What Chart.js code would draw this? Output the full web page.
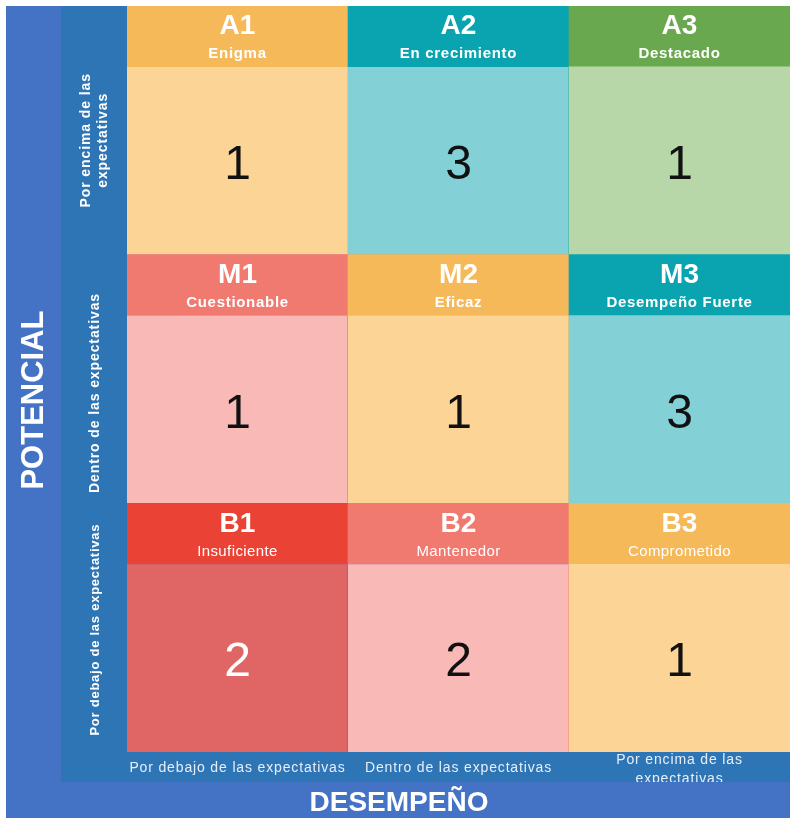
<!DOCTYPE html>
<html>
<head>
<meta charset="utf-8">
<script src="https://cdn.jsdelivr.net/npm/chart.js@4"></script>
<style>
  html, body { margin: 0; padding: 0; background: #fff; }
  canvas { display: block; }
</style>
</head>
<body>
<canvas id="grid" width="790" height="818"></canvas>
<script>
// Axis categories (x: desempeño, y: potencial, bottom row first)
const colLabels = ['Por debajo de las expectativas', 'Dentro de las expectativas', ['Por encima de las', 'expectativas']];
const rowLabels = ['Por debajo de las expectativas', 'Dentro de las expectativas', ['Por encima de las', 'expectativas']];

// Cell codes / names, rows bottom (B) to top (A)
const cellCodes = [['B1', 'B2', 'B3'], ['M1', 'M2', 'M3'], ['A1', 'A2', 'A3']];
const cellNames = [
  ['Insuficiente', 'Mantenedor', 'Comprometido'],
  ['Cuestionable', 'Eficaz', 'Desempeño Fuerte'],
  ['Enigma', 'En crecimiento', 'Destacado']
];
// Number of people in each box
const cellCounts = [[2, 2, 1], [1, 1, 3], [1, 3, 1]];

// Colors per cell (header / body)
const headerColors = [
  ['#EA4335', '#F07970', '#F5B95A'],
  ['#F07970', '#F5B95A', '#0AA4B0'],
  ['#F5B95A', '#0AA4B0', '#6AA84F']
];
const bodyColors = [
  ['#E06666', '#F9B9B6', '#FBD496'],
  ['#F9B9B6', '#FBD496', '#83D0D6'],
  ['#FBD496', '#83D0D6', '#B7D7A8']
];

const HEADER_SHARE = 0.245; // part of each row used by the title strip
const OUTER_BLUE = '#4472C4';
const INNER_BLUE = '#2E75B6';
const FONT = '"Liberation Sans", Arial, sans-serif';

// one stacked dataset for each body and each header strip
const datasets = [];
for (let r = 0; r < 3; r++) {
  datasets.push({
    label: 'body' + r,
    data: [0, 1, 2].map(() => 1 - HEADER_SHARE),
    backgroundColor: bodyColors[r],
    borderColor: headerColors[r],
    // thin divider on the right of the first two columns
    borderWidth: ctx => ctx.dataIndex < 2 ? { left: 0, right: 1, top: 0, bottom: 0 } : 0,
    borderSkipped: false
  });
  datasets.push({
    label: 'head' + r,
    data: [0, 1, 2].map(() => HEADER_SHARE),
    backgroundColor: headerColors[r],
    borderWidth: 0
  });
}

const frame = {
  id: 'frame',
  beforeDraw(chart) {
    const { ctx, chartArea: a } = chart;
    ctx.save();
    ctx.fillStyle = '#fff';
    ctx.fillRect(0, 0, chart.width, chart.height);
    ctx.fillStyle = OUTER_BLUE;
    ctx.fillRect(6, a.top, chart.width - 6, chart.height - a.top);
    ctx.fillStyle = INNER_BLUE;
    ctx.fillRect(61, a.top, a.left - 61, a.bottom - a.top + 30);
    ctx.fillRect(61, a.bottom, chart.width - 61, 30);
    ctx.restore();
  }
};

function txt(ctx, s, x, y, font, color, spacing) {
  ctx.font = font;
  ctx.fillStyle = color;
  ctx.letterSpacing = (spacing || 0) + 'px';
  ctx.fillText(s, x, y);
}

const labels = {
  id: 'labels',
  afterDatasetsDraw(chart) {
    const { ctx, chartArea: a } = chart;
    const xs = chart.scales.x, ys = chart.scales.y;
    ctx.save();
    ctx.textAlign = 'center';
    ctx.textBaseline = 'middle';

    for (let r = 0; r < 3; r++) {
      const top = ys.getPixelForValue(r + 1);
      const headBottom = ys.getPixelForValue(r + 1 - HEADER_SHARE);
      const bottom = ys.getPixelForValue(r);
      const hh = headBottom - top;
      for (let c = 0; c < 3; c++) {
        const x = xs.getPixelForValue(c);
        txt(ctx, cellCodes[r][c], x, top + hh * 0.27 + 4, 'bold 28px ' + FONT, '#fff');
        const nameFont = (r === 0 ? '' : 'bold ') + '15px ' + FONT;
        txt(ctx, cellNames[r][c], x, top + hh * 0.74 + 3, nameFont, '#fff', r === 0 ? 0.4 : 0.7);
        const numColor = (r === 0 && c === 0) ? '#fff' : '#111';
        txt(ctx, String(cellCounts[r][c]), x, (headBottom + bottom) / 2 + 5, '48px ' + FONT, numColor);
      }
    }

    // row labels, rotated inside the inner band
    const bandX = (61 + a.left) / 2 + 1;
    for (let r = 0; r < 3; r++) {
      const lines = [].concat(rowLabels[r]);
      const y = ys.getPixelForValue(r + 0.5) + (r === 2 ? 10 : r === 1 ? 14 : 2);
      const font = r === 0 ? 'bold 13px ' + FONT : 'bold 14px ' + FONT;
      ctx.save();
      ctx.translate(bandX, y);
      ctx.rotate(-Math.PI / 2);
      lines.forEach((s, i) => {
        const off = (i - (lines.length - 1) / 2) * 17;
        txt(ctx, s, 0, off, font, '#fff', r === 0 ? 0.75 : 0.9);
      });
      ctx.restore();
    }

    // column labels, clipped by the bottom band
    ctx.save();
    ctx.beginPath();
    ctx.rect(61, a.bottom, chart.width - 61, 30);
    ctx.clip();
    for (let c = 0; c < 3; c++) {
      const lines = [].concat(colLabels[c]);
      const x = xs.getPixelForValue(c);
      lines.forEach((s, i) => {
        const y = lines.length > 1 ? a.bottom + 8 + i * 19 : a.bottom + 16;
        txt(ctx, s, x, y, '14px ' + FONT, '#E8EEF8', 0.85);
      });
    }
    ctx.restore();

    // axis titles
    ctx.save();
    ctx.translate(34, ys.getPixelForValue(1.5) + 21);
    ctx.rotate(-Math.PI / 2);
    txt(ctx, 'POTENCIAL', 0, 0, 'bold 31px ' + FONT, '#fff');
    ctx.restore();
    txt(ctx, 'DESEMPEÑO', 399, chart.height - 15, 'bold 28px ' + FONT, '#fff');

    ctx.restore();
  }
};

new Chart(document.getElementById('grid'), {
  type: 'bar',
  data: { labels: colLabels, datasets: datasets },
  options: {
    responsive: false,
    animation: false,
    layout: { padding: { left: 127, top: 6, right: 0, bottom: 66 } },
    datasets: { bar: { barPercentage: 1, categoryPercentage: 1 } },
    plugins: { legend: { display: false }, tooltip: { enabled: false } },
    scales: {
      x: { display: false, stacked: true },
      y: { display: false, stacked: true, min: 0, max: 3 }
    }
  },
  plugins: [frame, labels]
});
</script>
</body>
</html>
